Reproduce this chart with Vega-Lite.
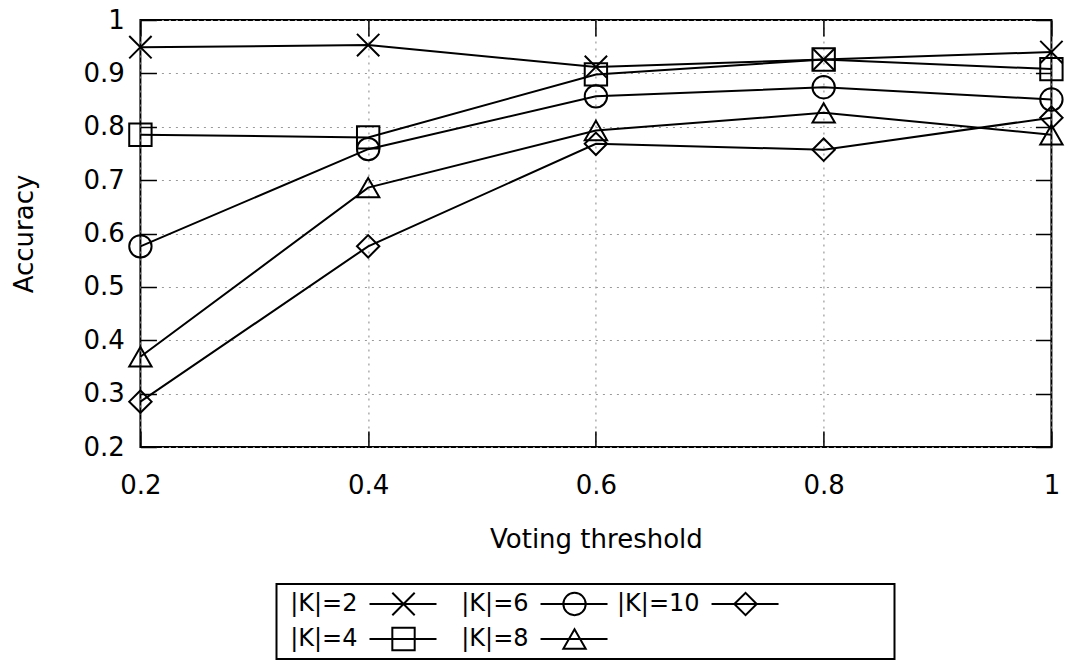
{
  "$schema": "https://vega.github.io/schema/vega-lite/v6.json",
  "padding": {"left": 10, "top": 6, "right": 2, "bottom": 2},
  "background": "white",
  "config": {
    "font": "DejaVu Sans",
    "view": {"stroke": "black", "strokeWidth": 2},
    "axis": {
      "labelFontSize": 26, "titleFontSize": 26, "labelColor": "black", "titleColor": "black",
      "titleFontWeight": "normal", "tickColor": "black", "tickWidth": 1.5, "domain": false,
      "gridColor": "#999999", "gridDash": [2, 5], "gridWidth": 1.2, "labelFlush": false
    }
  },
  "spacing": 30,
  "center": true,
  "vconcat": [
    {
      "width": 911,
      "height": 427,
      "data": {"values": [
        {"t": 0.2, "K": "|K|=2", "acc": 0.949}, {"t": 0.4, "K": "|K|=2", "acc": 0.953}, {"t": 0.6, "K": "|K|=2", "acc": 0.912}, {"t": 0.8, "K": "|K|=2", "acc": 0.926}, {"t": 1.0, "K": "|K|=2", "acc": 0.940},
        {"t": 0.2, "K": "|K|=4", "acc": 0.785}, {"t": 0.4, "K": "|K|=4", "acc": 0.780}, {"t": 0.6, "K": "|K|=4", "acc": 0.898}, {"t": 0.8, "K": "|K|=4", "acc": 0.926}, {"t": 1.0, "K": "|K|=4", "acc": 0.908},
        {"t": 0.2, "K": "|K|=6", "acc": 0.576}, {"t": 0.4, "K": "|K|=6", "acc": 0.758}, {"t": 0.6, "K": "|K|=6", "acc": 0.857}, {"t": 0.8, "K": "|K|=6", "acc": 0.874}, {"t": 1.0, "K": "|K|=6", "acc": 0.851},
        {"t": 0.2, "K": "|K|=8", "acc": 0.369}, {"t": 0.4, "K": "|K|=8", "acc": 0.686}, {"t": 0.6, "K": "|K|=8", "acc": 0.793}, {"t": 0.8, "K": "|K|=8", "acc": 0.826}, {"t": 1.0, "K": "|K|=8", "acc": 0.785},
        {"t": 0.2, "K": "|K|=10", "acc": 0.285}, {"t": 0.4, "K": "|K|=10", "acc": 0.576}, {"t": 0.6, "K": "|K|=10", "acc": 0.768}, {"t": 0.8, "K": "|K|=10", "acc": 0.757}, {"t": 1.0, "K": "|K|=10", "acc": 0.817}
      ]},
      "layer": [
        {
          "mark": {"type": "line", "color": "black", "strokeWidth": 2},
          "encoding": {
            "x": {"field": "t", "type": "quantitative", "scale": {"domain": [0.2, 1], "nice": false, "zero": false},
              "axis": {"orient": "bottom", "values": [0.2, 0.4, 0.6, 0.8, 1], "format": ".1~f", "tickSize": -16, "labelPadding": 41, "title": "Voting threshold", "titlePadding": 28}},
            "y": {"field": "acc", "type": "quantitative", "scale": {"domain": [0.2, 1], "nice": false, "zero": false},
              "axis": {"orient": "left", "values": [0.2, 0.3, 0.4, 0.5, 0.6, 0.7, 0.8, 0.9, 1], "format": ".1~f", "tickSize": -16, "labelPadding": 32, "title": "Accuracy", "titlePadding": 46}},
            "detail": {"field": "K"}
          }
        },
        {
          "mark": {"type": "point", "filled": false, "stroke": "black", "strokeWidth": 2, "size": 500, "opacity": 1},
          "encoding": {
            "x": {"field": "t", "type": "quantitative",
              "axis": {"orient": "top", "values": [0.2, 0.4, 0.6, 0.8, 1], "tickSize": -16, "labels": false, "grid": false, "title": null}},
            "y": {"field": "acc", "type": "quantitative",
              "axis": {"orient": "right", "values": [0.2, 0.3, 0.4, 0.5, 0.6, 0.7, 0.8, 0.9, 1], "tickSize": -16, "labels": false, "grid": false, "title": null}},
            "shape": {"field": "K", "type": "nominal", "legend": null,
              "scale": {"domain": ["|K|=2", "|K|=4", "|K|=6", "|K|=8", "|K|=10"],
                "range": ["M-1,-1L1,1M1,-1L-1,1", "square", "circle", "triangle-up", "diamond"]}}
          }
        }
      ],
      "resolve": {"axis": {"x": "independent", "y": "independent"}}
    },
    {
      "width": 618,
      "height": 75,
      "data": {"values": [
        {"K": "|K|=2", "col": 0, "row": 0},
        {"K": "|K|=6", "col": 1, "row": 0},
        {"K": "|K|=10", "col": 2, "row": 0},
        {"K": "|K|=4", "col": 0, "row": 1},
        {"K": "|K|=8", "col": 1, "row": 1}
      ]},
      "encoding": {
        "x": {"field": "col", "type": "quantitative", "scale": {"domain": [-0.4737, 3.14], "nice": false, "zero": false}, "axis": null},
        "y": {"field": "row", "type": "quantitative", "scale": {"domain": [-0.571, 1.571], "nice": false, "zero": false, "reverse": true},
          "axis": {"orient": "right", "labels": false, "ticks": false, "grid": false, "domain": false, "title": null, "minExtent": 36, "maxExtent": 36}}
      },
      "layer": [
        {"mark": {"type": "text", "align": "right", "baseline": "middle", "fontSize": 24, "color": "black"},
          "encoding": {"text": {"field": "K"}}},
        {"mark": {"type": "rule", "color": "black", "strokeWidth": 2, "xOffset": 12, "x2Offset": 79},
          "encoding": {"x2": {"field": "col"}}},
        {"mark": {"type": "point", "filled": false, "stroke": "black", "strokeWidth": 2, "size": 500, "opacity": 1, "xOffset": 46},
          "encoding": {"shape": {"field": "K", "type": "nominal", "legend": null,
            "scale": {"domain": ["|K|=2", "|K|=4", "|K|=6", "|K|=8", "|K|=10"],
              "range": ["M-1,-1L1,1M1,-1L-1,1", "square", "circle", "triangle-up", "diamond"]}}}}
      ]
    }
  ]
}
